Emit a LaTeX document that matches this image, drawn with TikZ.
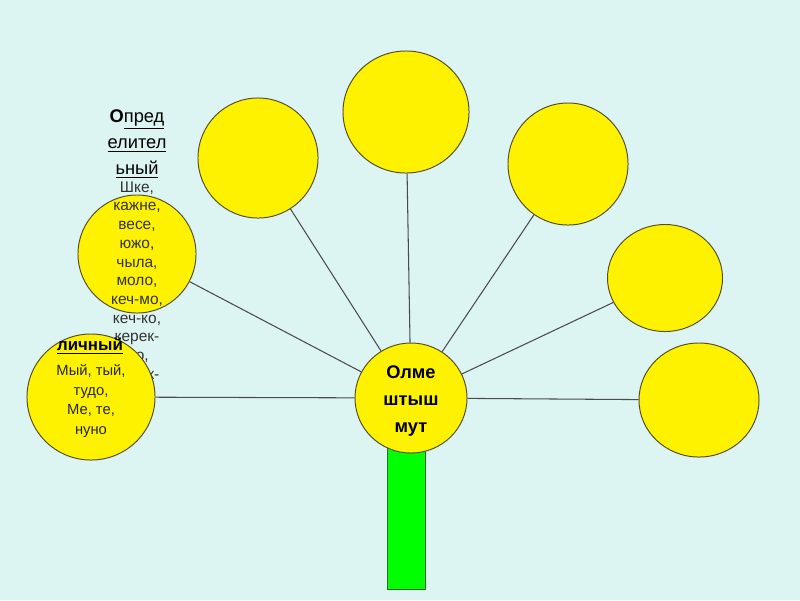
\documentclass[tikz,border=0pt]{standalone}
\usepackage{fontspec}
\setmainfont{Liberation Sans}
\usetikzlibrary{shapes.geometric}
\definecolor{bgcyan}{RGB}{221,245,242}
\definecolor{rim}{RGB}{85,80,40}
\definecolor{stemgreen}{RGB}{0,255,0}
\definecolor{stemrim}{RGB}{40,110,40}

\begin{document}
\begin{tikzpicture}[x=0.025cm,y=-0.025cm,
	petal/.style={ellipse,draw=rim,line width=0.7pt,fill=yellow,inner sep=0pt},
	spoke/.style={draw=black!70,line width=0.75pt},
	headtxt/.style={align=center,font=\fontsize{13}{18.5}\selectfont,text=black},
	bodytxt/.style={align=center,font=\fontsize{11}{13.3}\selectfont,text=black!80}]
			\fill[bgcyan] (0,0) rectangle (800,600);
			\node[draw=stemrim,fill=stemgreen,line width=0.7pt,minimum width=0.95cm,minimum height=3.6cm,inner sep=0pt] (stem) at (406,517) {};
			% petals
			\node[petal,minimum width=3.15cm,minimum height=3.05cm] (pa) at (406,112) {};
			\node[petal,minimum width=3cm,minimum height=3cm] (pb) at (258,158) {};
			\node[petal,minimum width=3cm,minimum height=3.05cm] (pc) at (568,164) {};
			\node[petal,minimum width=2.875cm,minimum height=2.675cm] (pd) at (665,278) {};
			\node[petal,minimum width=3cm,minimum height=2.85cm] (pe) at (699,400) {};
			\node[petal,minimum width=2.95cm,minimum height=2.95cm] (opr) at (137,254) {};
			\node[headtxt] (oprhead) at (137,144) {\textbf{О}\underline{пред}\\\underline{елител}\\\underline{ьный}};
			\node[bodytxt] (oprbody) at (137,282) {Шке,\\кажне,\\весе,\\южо,\\чыла,\\моло,\\кеч-мо,\\кеч-ко,\\керек-\\мо,\\керек-};
			\node[petal,minimum width=3.2cm,minimum height=3.15cm] (lich) at (91,397) {};
			\node[headtxt,font=\bfseries\fontsize{12}{18}\selectfont] (lichhead) at (90,346) {\underline{личный}};
			\node[bodytxt,text=black!85,font=\fontsize{10.5}{13.9}\selectfont] (lichbody) at (91,401) {Мый, тый,\\тудо,\\Ме, те,\\нуно};
			% centre
			\node[petal,minimum width=2.8cm,minimum height=2.75cm] (hub) at (411,398) {};
			\node[align=center,font=\bfseries\fontsize{13}{19}\selectfont] (hubtxt) at (411,401) {Олме\\штыш\\мут};
			\foreach \p in {pa,pb,pc,pd,pe,opr,lich}
			\draw[spoke] (hub) -- (\p);
			\end{tikzpicture}
\end{document}
